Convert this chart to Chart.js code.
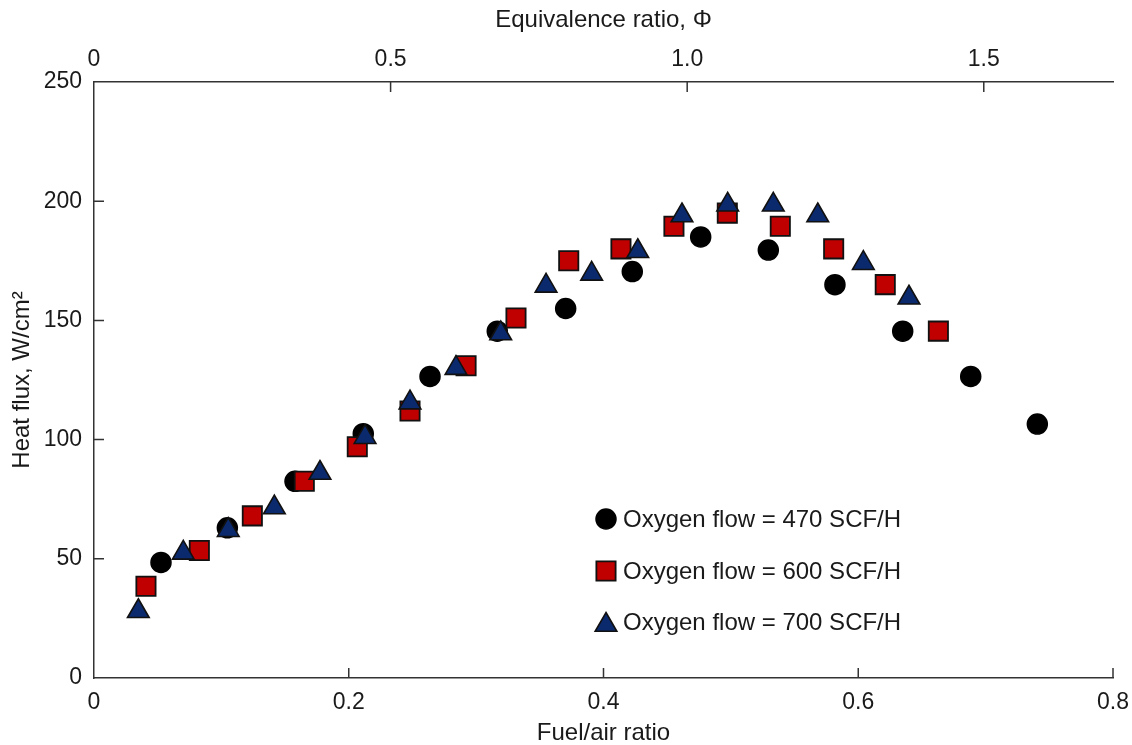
<!DOCTYPE html>
<html>
<head>
<meta charset="utf-8">
<title>Heat flux vs fuel/air ratio</title>
<script src="https://cdn.jsdelivr.net/npm/chart.js@4.4.1/dist/chart.umd.min.js"></script>
<style>
  html, body { margin: 0; padding: 0; background: #ffffff; }
  #wrap { position: relative; width: 1132px; height: 745px; }
</style>
</head>
<body>
<div id="wrap"><canvas id="chart" width="1132" height="745"></canvas></div>
<script>
// Heat flux measurements at three oxygen flow rates
const fuelAir470 = [0.0526, 0.1047, 0.1578, 0.2114, 0.2638, 0.3166, 0.3703, 0.4226, 0.4763, 0.5294, 0.5817, 0.6349, 0.6883, 0.7406];
const heatFlux470 = [48.5, 63.0, 82.5, 102.5, 126.5, 145.5, 155.0, 170.5, 185.0, 179.5, 165.0, 145.5, 126.5, 106.5];

const fuelAir600 = [0.0408, 0.0827, 0.1243, 0.1651, 0.2067, 0.2481, 0.2921, 0.3313, 0.3727, 0.4137, 0.4553, 0.4972, 0.5388, 0.5807, 0.6212, 0.6629];
const heatFlux600 = [38.5, 53.5, 68.0, 82.5, 97.0, 112.0, 131.0, 151.0, 175.0, 180.0, 189.5, 195.0, 189.5, 180.0, 165.0, 145.5];

const fuelAir700 = [0.0348, 0.0701, 0.1054, 0.1416, 0.1774, 0.2128, 0.2481, 0.2842, 0.3193, 0.3549, 0.3907, 0.4269, 0.4616, 0.4975, 0.5333, 0.5682, 0.6040, 0.6398];
const heatFlux700 = [28.0, 52.5, 62.0, 71.5, 86.0, 101.0, 115.5, 130.0, 144.5, 164.5, 169.5, 179.0, 194.0, 198.5, 198.5, 194.0, 174.0, 159.5];

const seriesLabels = ['Oxygen flow = 470 SCF/H', 'Oxygen flow = 600 SCF/H', 'Oxygen flow = 700 SCF/H'];

// Axis ticks
const fuelAirTicks = [0, 0.2, 0.4, 0.6, 0.8];
const fuelAirTickLabels = ['0', '0.2', '0.4', '0.6', '0.8'];
const phiTicks = [0, 0.5, 1.0, 1.5];
const phiTickLabels = ['0', '0.5', '1.0', '1.5'];
const heatFluxTicks = [0, 50, 100, 150, 200, 250];
const heatFluxTickLabels = ['0', '50', '100', '150', '200', '250'];

// Stoichiometric fuel/air ratio: links the bottom axis to the equivalence ratio axis
const STOICH_FUEL_AIR = 0.4657;
const FUEL_AIR_MAX = 0.8;

const FONT = "'Liberation Sans', Arial, Helvetica, sans-serif";
const TEXT_COLOR = '#1a1a1a';
const AXIS_COLOR = '#333333';

function toPoints(xs, ys) {
  return xs.map((x, i) => ({ x: x, y: ys[i] }));
}

const markerStyles = [
  { pointStyle: 'circle', radius: 10, backgroundColor: '#000000', borderColor: '#000000', borderWidth: 1.5 },
  { pointStyle: 'rect', radius: 13.6, backgroundColor: '#c00000', borderColor: '#111111', borderWidth: 1.8 },
  { pointStyle: 'triangle', radius: 12.5, backgroundColor: '#0b2a6e', borderColor: '#111111', borderWidth: 1.6 }
];

const datasets = [
  { label: seriesLabels[0], data: toPoints(fuelAir470, heatFlux470), order: 3 },
  { label: seriesLabels[1], data: toPoints(fuelAir600, heatFlux600), order: 2 },
  { label: seriesLabels[2], data: toPoints(fuelAir700, heatFlux700), order: 1 }
].map((ds, i) => Object.assign(ds, {
  pointStyle: markerStyles[i].pointStyle,
  pointRadius: markerStyles[i].radius,
  pointHoverRadius: markerStyles[i].radius,
  pointBackgroundColor: markerStyles[i].backgroundColor,
  pointBorderColor: markerStyles[i].borderColor,
  pointBorderWidth: markerStyles[i].borderWidth,
  showLine: false
}));

function fixedTicks(values) {
  return function (scale) {
    scale.ticks = values.map(v => ({ value: v }));
  };
}

function labelFrom(values, labels) {
  return function (value) {
    const i = values.findIndex(v => Math.abs(v - value) < 1e-9);
    return i >= 0 ? labels[i] : '';
  };
}

// Fix the box size of a scale and drop the extra room reserved for edge labels
function fitBox(size) {
  return function (s) {
    if (s.isHorizontal()) { s.height = size; } else { s.width = size; }
    s.paddingLeft = 0;
    s.paddingRight = 0;
    s.paddingTop = 0;
    s.paddingBottom = 0;
  };
}

// Short tick marks pointing into the plot area
const inwardTicks = {
  id: 'inwardTicks',
  afterDatasetsDraw(chart) {
    const { ctx, chartArea } = chart;
    const len = 10;
    ctx.save();
    ctx.strokeStyle = AXIS_COLOR;
    ctx.lineWidth = 1.5;
    ctx.beginPath();
    const x = chart.scales.x, x2 = chart.scales.x2, y = chart.scales.y;
    fuelAirTicks.forEach(v => {
      if (v <= x.min) return;
      const px = x.getPixelForValue(v);
      ctx.moveTo(px, chartArea.bottom);
      ctx.lineTo(px, chartArea.bottom - len);
    });
    phiTicks.forEach(v => {
      if (v <= x2.min) return;
      const px = x2.getPixelForValue(v);
      ctx.moveTo(px, chartArea.top);
      ctx.lineTo(px, chartArea.top + len);
    });
    heatFluxTicks.forEach(v => {
      if (v <= y.min || v >= y.max) return;
      const py = y.getPixelForValue(v);
      ctx.moveTo(chartArea.left, py);
      ctx.lineTo(chartArea.left + len, py);
    });
    ctx.stroke();
    ctx.restore();
  }
};

function drawMarker(ctx, style, x, y) {
  ctx.save();
  ctx.fillStyle = style.backgroundColor;
  ctx.strokeStyle = style.borderColor;
  ctx.lineWidth = style.borderWidth;
  ctx.beginPath();
  const r = style.radius;
  if (style.pointStyle === 'circle') {
    ctx.arc(x, y, r, 0, Math.PI * 2);
  } else if (style.pointStyle === 'rect') {
    const s = r * Math.SQRT1_2;
    ctx.rect(x - s, y - s, 2 * s, 2 * s);
  } else {
    const a = Math.PI * 2 / 3;
    ctx.moveTo(x, y - r);
    ctx.lineTo(x + Math.sin(a) * r, y - Math.cos(a) * r);
    ctx.lineTo(x + Math.sin(2 * a) * r, y - Math.cos(2 * a) * r);
    ctx.closePath();
  }
  ctx.fill();
  ctx.stroke();
  ctx.restore();
}

// Legend placed inside the plot, lower right
const insetLegend = {
  id: 'insetLegend',
  afterDraw(chart) {
    const { ctx } = chart;
    const markerX = 606, textX = 623;
    const rows = [519, 571, 622];
    ctx.save();
    ctx.font = '24px ' + FONT;
    ctx.fillStyle = TEXT_COLOR;
    ctx.textBaseline = 'middle';
    ctx.textAlign = 'left';
    chart.data.datasets.forEach((ds, i) => {
      const cy = rows[i];
      const my = markerStyles[i].pointStyle === 'triangle' ? cy + 3 : cy;
      drawMarker(ctx, markerStyles[i], markerX, my);
      ctx.fillStyle = TEXT_COLOR;
      ctx.fillText(ds.label, textX, cy + 1);
    });
    ctx.restore();
  }
};

const tickFont = { family: FONT, size: 23 };
const titleFont = { family: FONT, size: 24, lineHeight: 1.0 };

new Chart(document.getElementById('chart'), {
  type: 'scatter',
  data: { datasets: datasets },
  options: {
    responsive: false,
    animation: false,
    events: [],
    layout: { padding: { left: 0, right: 19, top: 0, bottom: 0 } },
    plugins: {
      legend: { display: false },
      tooltip: { enabled: false }
    },
    scales: {
      x: {
        type: 'linear',
        position: 'bottom',
        min: 0,
        max: FUEL_AIR_MAX,
        afterBuildTicks: fixedTicks(fuelAirTicks),
        afterFit: fitBox(67),
        grid: { display: false, drawTicks: false },
        border: { display: true, color: AXIS_COLOR, width: 1.5 },
        ticks: { font: tickFont, color: TEXT_COLOR, padding: 11, maxRotation: 0, callback: labelFrom(fuelAirTicks, fuelAirTickLabels) },
        title: { display: true, text: 'Fuel/air ratio', font: titleFont, color: TEXT_COLOR, padding: { top: 0, bottom: 0 } }
      },
      x2: {
        type: 'linear',
        position: 'top',
        min: 0,
        max: FUEL_AIR_MAX / STOICH_FUEL_AIR,
        afterBuildTicks: fixedTicks(phiTicks),
        afterFit: fitBox(82),
        grid: { display: false, drawTicks: false },
        border: { display: true, color: AXIS_COLOR, width: 1.5 },
        ticks: { font: tickFont, color: TEXT_COLOR, padding: 9, maxRotation: 0, callback: labelFrom(phiTicks, phiTickLabels) },
        title: { display: true, text: 'Equivalence ratio, \u03A6', font: titleFont, color: TEXT_COLOR, padding: { top: 8, bottom: 0 } }
      },
      y: {
        type: 'linear',
        position: 'left',
        min: 0,
        max: 250,
        afterBuildTicks: fixedTicks(heatFluxTicks),
        afterFit: fitBox(94),
        grid: { display: false, drawTicks: false },
        border: { display: true, color: AXIS_COLOR, width: 1.5 },
        ticks: { font: tickFont, color: TEXT_COLOR, padding: 12, callback: labelFrom(heatFluxTicks, heatFluxTickLabels) },
        title: { display: true, text: 'Heat flux, W/cm\u00B2', font: { family: FONT, size: 24, lineHeight: 1.2 }, color: TEXT_COLOR, padding: { top: 8, bottom: 0 } }
      }
    }
  },
  plugins: [inwardTicks, insetLegend]
});
</script>
</body>
</html>
